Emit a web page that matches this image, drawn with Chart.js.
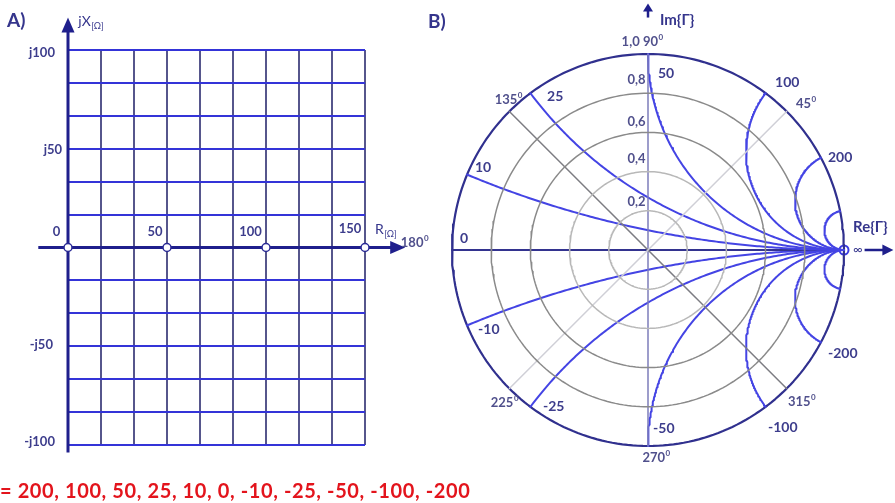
<!DOCTYPE html>
<html>
<head>
<meta charset="utf-8">
<script src="https://cdn.jsdelivr.net/npm/chart.js@4.4.1/dist/chart.umd.min.js"></script>
<style>
  html, body { margin: 0; padding: 0; background: #fff; width: 895px; height: 503px; overflow: hidden; }
  #cA { position: absolute; left: 0; top: 0; }
  #cB { position: absolute; left: 380px; top: 0; }
  #note { position: absolute; left: 0; top: 477px; font: bold 20px Lato, sans-serif; color: #e3141c;
          white-space: nowrap; letter-spacing: 0.6px; line-height: 26px; }
</style>
</head>
<body>
<canvas id="cA" width="440" height="503"></canvas>
<canvas id="cB" width="515" height="503"></canvas>
<div id="note"></div>
<script>
// ---- Panel A: impedance plane (R, jX in ohms) ----
const rTickValues = [0, 50, 100, 150];
const rTickLabels = ['0', '50', '100', '150'];
const xTickValues = [100, 50, -50, -100];
const xTickLabels = ['j100', 'j50', '-j50', '-j100'];
const gridStep = 50 / 3;           // three grid cells per 50 ohm

// ---- Panel B: reflection coefficient plane ----
const z0 = 50;                                              // reference impedance
const reactances = [200, 100, 50, 25, 10, 0, -10, -25, -50, -100, -200];
const reactanceLabels = ['200', '100', '50', '25', '10', '0', '-10', '-25', '-50', '-100', '-200'];
const extraReactances = [500, -500];                        // small unlabelled arcs next to the open end
const gammaRings = [0.2, 0.4, 0.6, 0.8];
const ringLabels = ['0,2', '0,4', '0,6', '0,8'];
const angleValues = [45, 135, 180, 225, 270, 315];
const angleLabels = ['45', '135', '180', '225', '270', '315'];

const NAVY = '#1f1f8c';
const TXT = '#3d3d8c';
const TXT2 = '#50508c';

function ticksFromStep(min, max, step) {
  const out = [];
  for (let k = Math.round(min / step); k <= Math.round(max / step); k++) out.push({ value: k * step });
  return out;
}

function arrowLine(ctx, x0, y0, x1, y1, color, width, headLen, headHalf) {
  const a = Math.atan2(y1 - y0, x1 - x0);
  ctx.save();
  ctx.strokeStyle = color; ctx.fillStyle = color; ctx.lineWidth = width; ctx.lineCap = 'butt';
  ctx.beginPath();
  ctx.moveTo(x0, y0);
  ctx.lineTo(x1 - Math.cos(a) * headLen * 0.8, y1 - Math.sin(a) * headLen * 0.8);
  ctx.stroke();
  ctx.beginPath();
  ctx.moveTo(x1, y1);
  ctx.lineTo(x1 - Math.cos(a) * headLen - Math.sin(a) * headHalf, y1 - Math.sin(a) * headLen + Math.cos(a) * headHalf);
  ctx.lineTo(x1 - Math.cos(a) * headLen + Math.sin(a) * headHalf, y1 - Math.sin(a) * headLen - Math.cos(a) * headHalf);
  ctx.closePath();
  ctx.fill();
  ctx.restore();
}

// text with optional superscript and subscript pieces
function drawLabel(ctx, L, px, py) {
  const size = L.size || 13;
  const weight = L.weight || 'bold';
  ctx.save();
  ctx.fillStyle = L.color || TXT;
  ctx.textBaseline = 'middle';
  ctx.font = `${weight} ${size}px Lato, sans-serif`;
  const w0 = ctx.measureText(L.text).width;
  const small = Math.round(size * 0.62);
  ctx.font = `${weight} ${small}px Lato, sans-serif`;
  const w1 = L.sup ? ctx.measureText(L.sup).width : (L.sub ? ctx.measureText(L.sub).width : 0);
  const total = w0 + w1;
  let x = px;
  if (L.align === 'right') x = px - total;
  else if (L.align === 'center') x = px - total / 2;
  ctx.textAlign = 'left';
  ctx.font = `${weight} ${size}px Lato, sans-serif`;
  ctx.fillText(L.text, x, py);
  ctx.font = `${weight} ${small}px Lato, sans-serif`;
  if (L.sup) ctx.fillText(L.sup, x + w0 + 0.5, py - size * 0.38);
  if (L.sub) ctx.fillText(L.sub, x + w0 + 0.5, py + size * 0.32);
  ctx.restore();
}

// label layout for panel A, in ohm coordinates
const labelsA = [
  { text: 'A)', x: -30.8, y: 115, align: 'left', size: 19, color: '#35358c' },
  { text: 'jX', sub: '[Ω]', x: 5.2, y: 114.5, align: 'left', size: 14, weight: 'normal', color: '#35358c' },
  { text: xTickLabels[0], x: -6.6, y: xTickValues[0] - 1.5, align: 'right' },
  { text: xTickLabels[1], x: -3.0, y: xTickValues[1] - 0.3, align: 'right' },
  { text: xTickLabels[2], x: -7.6, y: xTickValues[2] + 0.6, align: 'right' },
  { text: xTickLabels[3], x: -6.6, y: xTickValues[3] + 1.5, align: 'right' },
  { text: rTickLabels[0], x: rTickValues[0] - 5.8, y: 7.8, align: 'center' },
  { text: rTickLabels[1], x: rTickValues[1] - 6.1, y: 7.8, align: 'center' },
  { text: rTickLabels[2], x: rTickValues[2] - 7.8, y: 7.8, align: 'center' },
  { text: rTickLabels[3], x: rTickValues[3] - 7.6, y: 9.3, align: 'center' },
  { text: 'R', sub: '[Ω]', x: 155, y: 8.9, align: 'left', size: 14, weight: 'normal', color: '#35358c' }
];

const panelAPlugin = {
  id: 'panelA',
  beforeDatasetsDraw(chart) {
    const { ctx, scales: { x, y } } = chart;
    // R axis and jX axis with arrow heads
    arrowLine(ctx, x.getPixelForValue(-15), y.getPixelForValue(0), x.getPixelForValue(170.3), y.getPixelForValue(0), NAVY, 3, 15, 6.5);
    arrowLine(ctx, x.getPixelForValue(0), y.getPixelForValue(-103.8), x.getPixelForValue(0), y.getPixelForValue(116.5), NAVY, 3, 15, 6.5);
  },
  afterDatasetsDraw(chart) {
    const { ctx, scales: { x, y } } = chart;
    labelsA.forEach(L => drawLabel(ctx, L, x.getPixelForValue(L.x), y.getPixelForValue(L.y)));
  }
};

new Chart(document.getElementById('cA'), {
  type: 'scatter',
  data: {
    datasets: [{
      data: rTickValues.map(v => ({ x: v, y: 0 })),
      pointRadius: 4, pointBackgroundColor: '#ffffff', pointBorderColor: '#2a2a96', pointBorderWidth: 1.5,
      showLine: false, clip: false
    }]
  },
  options: {
    responsive: false, animation: false, events: [],
    layout: { padding: { left: 68, right: 75, top: 50, bottom: 58 } },
    plugins: { legend: { display: false }, tooltip: { enabled: false } },
    scales: {
      x: {
        type: 'linear', min: 0, max: 150,
        afterBuildTicks: s => { s.ticks = ticksFromStep(0, 150, gridStep); },
        ticks: { display: false },
        grid: { color: '#56568c', lineWidth: 2, drawTicks: false },
        border: { display: false }
      },
      y: {
        type: 'linear', min: -100, max: 100,
        afterBuildTicks: s => { s.ticks = ticksFromStep(-100, 100, gridStep); },
        ticks: { display: false },
        grid: { color: '#3434d8', lineWidth: 2, drawTicks: false },
        border: { display: false }
      }
    }
  },
  plugins: [panelAPlugin]
});

// ---- Panel B geometry helpers ----
function gammaOf(r, x) {            // normalised z = r + jx  ->  reflection coefficient
  const dr = (r + 1) * (r + 1) + x * x;
  return { x: (r * r + x * x - 1) / dr, y: (2 * x) / dr };
}
// constant-reactance arc: circle centred at (1, 1/x) with radius 1/|x|,
// from the rim point (r = 0) to the open-circuit point (1, 0)
function reactanceArc(X) {
  const xn = X / z0;
  if (xn === 0) return [{ x: -1, y: 0 }, { x: 1, y: 0 }];
  const sgn = Math.sign(xn), a = Math.abs(xn);
  const cx = 1, cy = 1 / a, rad = 1 / a;
  const p0 = gammaOf(0, a);
  let t0 = Math.atan2(p0.y - cy, p0.x - cx);
  if (t0 < Math.PI / 2) t0 += 2 * Math.PI;      // keep the sweep inside the unit circle
  const t1 = 1.5 * Math.PI;
  const n = 160, pts = [];
  for (let i = 0; i <= n; i++) {
    const t = t0 + (t1 - t0) * i / n;
    pts.push({ x: cx + rad * Math.cos(t), y: sgn * (cy + rad * Math.sin(t)) });
  }
  return pts;
}
function ring(rho) {
  const pts = [];
  for (let i = 0; i <= 240; i++) {
    const t = (i / 240) * 2 * Math.PI;
    pts.push({ x: rho * Math.cos(t), y: rho * Math.sin(t) });
  }
  return pts;
}
function diameter(deg) {
  const t = deg * Math.PI / 180;
  return [{ x: Math.cos(t), y: Math.sin(t) }, { x: -Math.cos(t), y: -Math.sin(t) }];
}
const lineDS = (data, color, width) => ({
  data, borderColor: color, borderWidth: width, showLine: true, pointRadius: 0, tension: 0, fill: false,
  clip: false, borderJoinStyle: 'round', borderCapStyle: 'round'
});

const datasetsB = [];
gammaRings.forEach(rho => datasetsB.push(lineDS(ring(rho), rho < 0.5 ? '#b8b8b8' : '#8a8a8a', 1.5)));
datasetsB.push(lineDS(diameter(45), '#cfcfd6', 1.5));
datasetsB.push(lineDS(diameter(135), '#7c7c82', 1.5));
datasetsB.push(lineDS(diameter(90), '#7d7dbb', 1.5));
extraReactances.concat(reactances).forEach(X => {
  if (X === 0) datasetsB.push(lineDS(reactanceArc(X), '#33338f', 2));
  else datasetsB.push(lineDS(reactanceArc(X), '#4444e4', 2));
});
datasetsB.push(lineDS(ring(1), '#30308e', 2.2));
datasetsB.push({
  data: [{ x: 1, y: 0 }], pointRadius: 4.5, pointBackgroundColor: '#ffffff', pointBorderColor: '#3a3ae0',
  pointBorderWidth: 2, showLine: false, clip: false
});

// label layout for panel B, in reflection-coefficient coordinates
const RL = 14;
const labelsB = [
  { text: 'B)', x: -1.122, y: 1.163, align: 'left', size: 19, color: '#35358c' },
  { text: 'Im{Γ}', x: 0.061, y: 1.173, align: 'left', size: 15, color: '#35358c' },
  { text: 'Re{Γ}', x: 1.046, y: 0.117, align: 'left', size: 15, color: '#35358c' },
  { text: '∞', x: 1.046, y: 0.003, align: 'left', size: 13, weight: 'normal', color: '#35358c' },
  { text: '1,0 90', sup: '0', x: -0.03, y: 1.061, align: 'center', size: 13, color: TXT2 },
  { text: ringLabels[3], x: -0.012, y: 0.867, align: 'right', color: TXT2 },
  { text: ringLabels[2], x: -0.012, y: 0.653, align: 'right', color: TXT2 },
  { text: ringLabels[1], x: -0.012, y: 0.464, align: 'right', color: TXT2 },
  { text: ringLabels[0], x: -0.012, y: 0.245, align: 'right', color: TXT2 },
  { text: angleLabels[0], sup: '0', x: 0.755, y: 0.745, align: 'left', color: TXT2 },
  { text: angleLabels[1], sup: '0', x: -0.643, y: 0.765, align: 'right', color: TXT2 },
  { text: angleLabels[2], sup: '0', x: -1.122, y: 0.036, align: 'right', color: TXT2 },
  { text: angleLabels[3], sup: '0', x: -0.663, y: -0.781, align: 'right', color: TXT2 },
  { text: angleLabels[4], sup: '0', x: 0.041, y: -1.061, align: 'center', color: TXT2 },
  { text: angleLabels[5], sup: '0', x: 0.714, y: -0.776, align: 'left', color: TXT2 },
  { text: reactanceLabels[0], x: 0.918, y: 0.474, align: 'left', size: RL },
  { text: reactanceLabels[1], x: 0.648, y: 0.857, align: 'left', size: RL },
  { text: reactanceLabels[2], x: 0.051, y: 0.903, align: 'left', size: RL },
  { text: reactanceLabels[3], x: -0.515, y: 0.781, align: 'left', size: RL },
  { text: reactanceLabels[4], x: -0.883, y: 0.423, align: 'left', size: RL },
  { text: reactanceLabels[5], x: -0.959, y: 0.061, align: 'left', size: RL },
  { text: reactanceLabels[6], x: -0.867, y: -0.403, align: 'left', size: RL },
  { text: reactanceLabels[7], x: -0.536, y: -0.796, align: 'left', size: RL },
  { text: reactanceLabels[8], x: 0.026, y: -0.913, align: 'left', size: RL },
  { text: reactanceLabels[9], x: 0.612, y: -0.908, align: 'left', size: RL },
  { text: reactanceLabels[10], x: 0.918, y: -0.526, align: 'left', size: RL }
];

const panelBPlugin = {
  id: 'panelB',
  afterDatasetsDraw(chart) {
    const { ctx, scales: { x, y } } = chart;
    // Im{Γ} arrow above the chart and Re{Γ} arrow past the open-circuit point
    arrowLine(ctx, x.getPixelForValue(0), y.getPixelForValue(1.186), x.getPixelForValue(0), y.getPixelForValue(1.258), NAVY, 2.5, 8, 5);
    arrowLine(ctx, x.getPixelForValue(1.105), y.getPixelForValue(0), x.getPixelForValue(1.252), y.getPixelForValue(0), NAVY, 2.5, 11, 5.5);
    labelsB.forEach(L => drawLabel(ctx, L, x.getPixelForValue(L.x), y.getPixelForValue(L.y)));
  }
};

new Chart(document.getElementById('cB'), {
  type: 'scatter',
  data: { datasets: datasetsB },
  options: {
    responsive: false, animation: false, events: [],
    layout: { padding: { left: 72, right: 51, top: 54, bottom: 57 } },
    plugins: { legend: { display: false }, tooltip: { enabled: false } },
    scales: {
      x: { type: 'linear', min: -1, max: 1, display: false },
      y: { type: 'linear', min: -1, max: 1, display: false }
    }
  },
  plugins: [panelBPlugin]
});

document.getElementById('note').textContent = '= ' + reactances.join(', ');
</script>
</body>
</html>
